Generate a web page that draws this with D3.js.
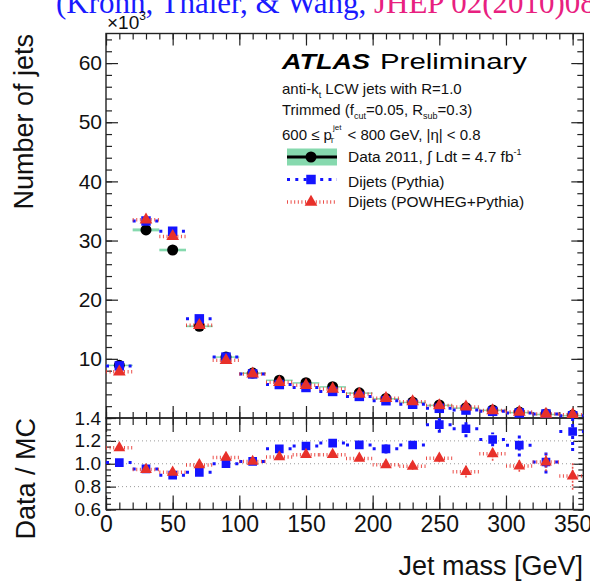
<!DOCTYPE html>
<html>
<head>
<meta charset="utf-8">
<script src="https://cdn.jsdelivr.net/npm/d3@7/dist/d3.min.js"></script>
<style>
  html, body { margin: 0; padding: 0; background: #fff; }
  svg { display: block; font-family: "Liberation Sans", Arial, Helvetica, sans-serif; }
</style>
</head>
<body>
<svg id="chart" width="590" height="584"></svg>
<script>
// Jet mass spectrum, 20 GeV bins (counts in units of 10^3 jets)
const massCenters = [10, 30, 50, 70, 90, 110, 130, 150, 170, 190, 210, 230, 250, 270, 290, 310, 330, 350];
const binWidth = 20;
const dataCounts   = [8.9, 31.8, 28.4, 15.5, 10.3, 7.6, 6.4, 5.96, 5.3, 4.25, 3.3, 2.7, 2.2, 1.75, 1.37, 1.0, 0.68, 0.5];
const dataSyst     = [0.12, 0.25, 0.22, 0.15, 0.12, 0.1, 0.1, 0.1, 0.09, 0.08, 0.07, 0.06, 0.06, 0.05, 0.05, 0.04, 0.04, 0.03];
const pythiaCounts = [8.81, 33.3, 31.56, 16.76, 10.3, 7.45, 5.66, 5.16, 4.49, 3.65, 2.92, 2.32, 1.64, 1.34, 1.13, 0.86, 0.67, 0.39];
const powhegCounts = [7.81, 33.5, 30.7, 15.66, 9.76, 7.45, 6.04, 5.52, 4.91, 4.06, 3.33, 2.76, 2.1, 1.88, 1.26, 1.02, 0.67, 0.56];
// uncertainties on Data/MC
const pythiaRatioErr = [0.01, 0.01, 0.01, 0.01, 0.012, 0.015, 0.02, 0.02, 0.025, 0.02, 0.04, 0.035, 0.07, 0.075, 0.06, 0.1, 0.1, 0.17];
const powhegRatioErr = [0.01, 0.01, 0.01, 0.01, 0.012, 0.015, 0.02, 0.02, 0.02, 0.02, 0.025, 0.03, 0.035, 0.05, 0.06, 0.05, 0.08, 0.12];

// axis ticks
const massTicks = [0, 50, 100, 150, 200, 250, 300, 350];
const countTicks = [10, 20, 30, 40, 50, 60];
const ratioTicks = [0.6, 0.8, 1.0, 1.2, 1.4];
const ratioGrid = [0.8, 1.0, 1.2];

const colData = "#000000", colBand = "#86d9ae", colPythia = "#1414ff", colPowheg = "#e8302a";

const svg = d3.select("#chart");
const L = 106, R = 583.3;
const mainTop = 33.5, mainBot = 418, ratTop = 418, ratBot = 509.5;

const x = d3.scaleLinear().domain([0, 358]).range([L, R]);
const y = d3.scaleLinear().domain([0, 65]).range([mainBot, mainTop]);
const yr = d3.scaleLinear().domain([0.6, 1.4]).range([ratBot, ratTop]);

// header reference line (partly outside the canvas)
const head = svg.append("text").attr("x", 56).attr("y", 13)
  .style("font-family", "'Liberation Serif', 'Times New Roman', serif").style("font-size", "31px");
head.append("tspan").attr("fill", "#1a1aff").text("(Krohn, Thaler, & Wang, ");
head.append("tspan").attr("fill", "#e8207f").text("JHEP 02(2010)084)");

// clip paths
const defs = svg.append("defs");
defs.append("clipPath").attr("id", "clipMain").append("rect")
  .attr("x", L).attr("y", mainTop).attr("width", R - L).attr("height", mainBot - mainTop);
defs.append("clipPath").attr("id", "clipRatio").append("rect")
  .attr("x", L).attr("y", ratTop).attr("width", R - L).attr("height", ratBot - ratTop);

// ---------- axes helpers ----------
function minorRange(a, b, step) {
  const out = [];
  for (let v = a; v <= b + 1e-9; v += step) out.push(+v.toFixed(4));
  return out;
}
function drawAxis(g, axis) {
  g.call(axis);
  g.select(".domain").remove();
  g.selectAll(".tick line").attr("stroke", "#222").attr("stroke-width", 1.2);
}

const massMinor = minorRange(0, 350, 10);

// main panel ticks
drawAxis(svg.append("g").attr("transform", `translate(0,${mainBot})`),
  d3.axisBottom(x).tickValues(massMinor).tickSize(-6).tickFormat(""));
drawAxis(svg.append("g").attr("transform", `translate(0,${mainBot})`),
  d3.axisBottom(x).tickValues(massTicks).tickSize(-12).tickFormat(""));
drawAxis(svg.append("g").attr("transform", `translate(0,${mainTop})`),
  d3.axisTop(x).tickValues(massMinor).tickSize(-6).tickFormat(""));
drawAxis(svg.append("g").attr("transform", `translate(0,${mainTop})`),
  d3.axisTop(x).tickValues(massTicks).tickSize(-12).tickFormat(""));
const countMinor = minorRange(0, 64, 2);
drawAxis(svg.append("g").attr("transform", `translate(${L},0)`),
  d3.axisLeft(y).tickValues(countMinor).tickSize(-6).tickFormat(""));
const yAxisMain = svg.append("g").attr("transform", `translate(${L},0)`);
drawAxis(yAxisMain, d3.axisLeft(y).tickValues(countTicks).tickSize(-12).tickPadding(4).tickFormat(d3.format("d")));
yAxisMain.selectAll("text").style("font-size", "21px").attr("fill", "#111").attr("font-family", null);
drawAxis(svg.append("g").attr("transform", `translate(${R},0)`),
  d3.axisRight(y).tickValues(countMinor).tickSize(-6).tickFormat(""));
drawAxis(svg.append("g").attr("transform", `translate(${R},0)`),
  d3.axisRight(y).tickValues(countTicks).tickSize(-12).tickFormat(""));

// ratio panel ticks
drawAxis(svg.append("g").attr("transform", `translate(0,${ratTop})`),
  d3.axisTop(x).tickValues(massMinor).tickSize(-7).tickFormat(""));
drawAxis(svg.append("g").attr("transform", `translate(0,${ratTop})`),
  d3.axisTop(x).tickValues(massTicks).tickSize(-14).tickFormat(""));
drawAxis(svg.append("g").attr("transform", `translate(0,${ratBot})`),
  d3.axisBottom(x).tickValues(massMinor).tickSize(-7).tickFormat(""));
const xAxisRatio = svg.append("g").attr("transform", `translate(0,${ratBot})`);
drawAxis(xAxisRatio, d3.axisBottom(x).tickValues(massTicks).tickSize(-14).tickPadding(6).tickFormat(d3.format("d")));
xAxisRatio.selectAll("text").style("font-size", "23px").attr("fill", "#111").attr("font-family", null);
const ratioMinor = minorRange(0.6, 1.4, 0.05);
drawAxis(svg.append("g").attr("transform", `translate(${L},0)`),
  d3.axisLeft(yr).tickValues(ratioMinor).tickSize(-5).tickFormat(""));
const yAxisRatio = svg.append("g").attr("transform", `translate(${L},0)`);
drawAxis(yAxisRatio, d3.axisLeft(yr).tickValues(ratioTicks).tickSize(-10).tickPadding(5).tickFormat(d3.format(".1f")));
yAxisRatio.selectAll("text").style("font-size", "19px").attr("fill", "#111").attr("font-family", null);
drawAxis(svg.append("g").attr("transform", `translate(${R},0)`),
  d3.axisRight(yr).tickValues(ratioMinor).tickSize(-5).tickFormat(""));
drawAxis(svg.append("g").attr("transform", `translate(${R},0)`),
  d3.axisRight(yr).tickValues(ratioTicks).tickSize(-10).tickFormat(""));

// ratio grid lines
svg.append("g").selectAll("line").data(ratioGrid).join("line")
  .attr("x1", L).attr("x2", R).attr("y1", d => yr(d)).attr("y2", d => yr(d))
  .attr("stroke", "#9a9a9a").attr("stroke-width", 1).attr("stroke-dasharray", "1,3");

// frames
svg.append("rect").attr("x", L).attr("y", mainTop).attr("width", R - L).attr("height", mainBot - mainTop)
  .attr("fill", "none").attr("stroke", "#222").attr("stroke-width", 1.4);
svg.append("rect").attr("x", L).attr("y", ratTop).attr("width", R - L).attr("height", ratBot - ratTop)
  .attr("fill", "none").attr("stroke", "#222").attr("stroke-width", 1.4);

// marker shapes
const sqPath = d3.symbol(d3.symbolSquare, 90)();
const triPath = d3.symbol(d3.symbolTriangle, 70)();
const sqPathR = d3.symbol(d3.symbolSquare, 75)();
const triPathR = d3.symbol(d3.symbolTriangle, 60)();

const bluePattern = { stroke: colPythia, width: 3, dash: "3,8.3", opacity: 1 };
const redPattern = { stroke: colPowheg, width: 3.5, dash: "1,2.6", opacity: 0.85 };

function hBars(g, yScale, values, pat) {
  g.selectAll(null).data(values).join("line")
    .attr("x1", (d, i) => x(massCenters[i] - binWidth / 2))
    .attr("x2", (d, i) => x(massCenters[i] + binWidth / 2))
    .attr("y1", d => yScale(d)).attr("y2", d => yScale(d))
    .attr("stroke", pat.stroke).attr("stroke-width", pat.width).attr("stroke-dasharray", pat.dash)
    .attr("stroke-opacity", pat.opacity);
}
function vBars(g, yScale, values, errs, pat) {
  g.selectAll(null).data(values).join("line")
    .attr("x1", (d, i) => x(massCenters[i])).attr("x2", (d, i) => x(massCenters[i]))
    .attr("y1", (d, i) => yScale(d - errs[i])).attr("y2", (d, i) => yScale(d + errs[i]))
    .attr("stroke", pat.stroke).attr("stroke-width", pat.width === 3 ? 3 : 1.6)
    .attr("stroke-dasharray", pat.width === 3 ? "3,3" : "2,1.5")
    .attr("stroke-opacity", pat.opacity);
}
function markers(g, yScale, values, path, color) {
  g.selectAll(null).data(values).join("path")
    .attr("d", path).attr("fill", color)
    .attr("transform", (d, i) => `translate(${x(massCenters[i])},${yScale(d)})`);
}

// ---------- main panel ----------
const gm = svg.append("g").attr("clip-path", "url(#clipMain)");
gm.selectAll(null).data(dataCounts).join("rect")
  .attr("x", (d, i) => x(massCenters[i] - binWidth / 2))
  .attr("width", (d, i) => x(massCenters[i] + binWidth / 2) - x(massCenters[i] - binWidth / 2))
  .attr("y", (d, i) => y(d + dataSyst[i]))
  .attr("height", (d, i) => Math.max(1.5, y(d - dataSyst[i]) - y(d + dataSyst[i])))
  .attr("fill", colBand);
gm.selectAll(null).data(dataCounts).join("circle")
  .attr("cx", (d, i) => x(massCenters[i])).attr("cy", d => y(d)).attr("r", 5.5).attr("fill", colData);
hBars(gm, y, pythiaCounts, bluePattern);
markers(gm, y, pythiaCounts, sqPath, colPythia);
hBars(gm, y, powhegCounts, redPattern);
markers(gm, y, powhegCounts, triPath, colPowheg);

// ---------- ratio panel ----------
const ratioPythia = dataCounts.map((d, i) => d / pythiaCounts[i]);
const ratioPowheg = dataCounts.map((d, i) => d / powhegCounts[i]);
const gr = svg.append("g").attr("clip-path", "url(#clipRatio)");
hBars(gr, yr, ratioPythia, bluePattern);
vBars(gr, yr, ratioPythia, pythiaRatioErr, bluePattern);
markers(gr, yr, ratioPythia, sqPathR, colPythia);
hBars(gr, yr, ratioPowheg, redPattern);
vBars(gr, yr, ratioPowheg, powhegRatioErr, redPattern);
markers(gr, yr, ratioPowheg, triPathR, colPowheg);

// ---------- axis titles ----------
svg.append("text").attr("transform", `translate(33,34) rotate(-90)`).attr("text-anchor", "end")
  .style("font-size", "27px").attr("fill", "#111").text("Number of jets");
svg.append("text").attr("transform", `translate(35,418) rotate(-90)`).attr("text-anchor", "end")
  .style("font-size", "27px").attr("fill", "#111").text("Data / MC");
svg.append("text").attr("x", 583).attr("y", 575).attr("text-anchor", "end")
  .style("font-size", "27px").attr("fill", "#111").text("Jet mass [GeV]");

// exponent label
const expo = svg.append("text").attr("x", 107).attr("y", 29).style("font-size", "19px").attr("fill", "#111");
expo.append("tspan").text("×10");
expo.append("tspan").attr("dy", -9).style("font-size", "12px").text("3");

// ---------- labels & legend ----------
svg.append("text").attr("x", 282).attr("y", 69).attr("textLength", 88).attr("lengthAdjust", "spacingAndGlyphs")
  .style("font-size", "22px").style("font-weight", "bold").style("font-style", "italic").attr("fill", "#000").text("ATLAS");
svg.append("text").attr("x", 380).attr("y", 69).attr("textLength", 147).attr("lengthAdjust", "spacingAndGlyphs")
  .style("font-size", "22px").attr("fill", "#000").text("Preliminary");

function richText(xp, yp, parts) {
  const t = svg.append("text").attr("x", xp).attr("y", yp).style("font-size", "15px").attr("fill", "#111");
  parts.forEach(p => {
    const s = t.append("tspan").text(p.t);
    if (p.sub) s.attr("baseline-shift", "-40%").style("font-size", "9px");
    if (p.sup) s.attr("baseline-shift", "60%").style("font-size", "9px");
  });
  return t;
}
richText(282, 94, [{ t: "anti-k" }, { t: "t", sub: true }, { t: " LCW jets with R=1.0" }]);
richText(282, 115, [{ t: "Trimmed (f" }, { t: "cut", sub: true }, { t: "=0.05, R" }, { t: "sub", sub: true }, { t: "=0.3)" }]);
const ptLine = svg.append("text").attr("x", 282).attr("y", 140).style("font-size", "15px").attr("fill", "#111");
ptLine.append("tspan").text("600 ≤ p");
ptLine.append("tspan").attr("dx", 1).attr("dy", -10).style("font-size", "8px").text("jet");
ptLine.append("tspan").attr("dx", -12).attr("dy", 13).style("font-size", "8px").text("T");
ptLine.append("tspan").attr("dx", 9).attr("dy", -3).text(" < 800 GeV, |η| < 0.8");

const legendItems = ["Data 2011", "Dijets (Pythia)", "Dijets (POWHEG+Pythia)"];
const legX0 = 287, legX1 = 337, legXc = 311;
const legY = [157, 179.5, 202];
// data entry
svg.append("rect").attr("x", legX0).attr("y", legY[0] - 8.5).attr("width", legX1 - legX0).attr("height", 17).attr("fill", colBand);
svg.append("line").attr("x1", legX0).attr("x2", legX1).attr("y1", legY[0]).attr("y2", legY[0])
  .attr("stroke", colData).attr("stroke-width", 3);
svg.append("circle").attr("cx", legXc).attr("cy", legY[0]).attr("r", 5.5).attr("fill", colData);
const dataLab = svg.append("text").attr("x", 348).attr("y", 162).style("font-size", "15.5px").attr("fill", "#111");
dataLab.append("tspan").text(legendItems[0] + ", ∫ Ldt = 4.7 fb");
dataLab.append("tspan").attr("dy", -7).style("font-size", "9px").text("-1");
// pythia entry
svg.append("line").attr("x1", legX0).attr("x2", legX1).attr("y1", legY[1]).attr("y2", legY[1])
  .attr("stroke", colPythia).attr("stroke-width", 3).attr("stroke-dasharray", "3,5.3");
svg.append("path").attr("d", sqPath).attr("fill", colPythia).attr("transform", `translate(${legXc},${legY[1]})`);
svg.append("text").attr("x", 348).attr("y", 187).style("font-size", "15.5px").attr("fill", "#111").text(legendItems[1]);
// powheg entry
svg.append("line").attr("x1", legX0).attr("x2", legX1).attr("y1", legY[2]).attr("y2", legY[2])
  .attr("stroke", colPowheg).attr("stroke-width", 3.5).attr("stroke-dasharray", "1,2.6").attr("stroke-opacity", 0.85);
svg.append("path").attr("d", triPath).attr("fill", colPowheg).attr("transform", `translate(${legXc},${legY[2]})`);
svg.append("text").attr("x", 348).attr("y", 207).style("font-size", "15.5px").attr("fill", "#111").text(legendItems[2]);
</script>
</body>
</html>
